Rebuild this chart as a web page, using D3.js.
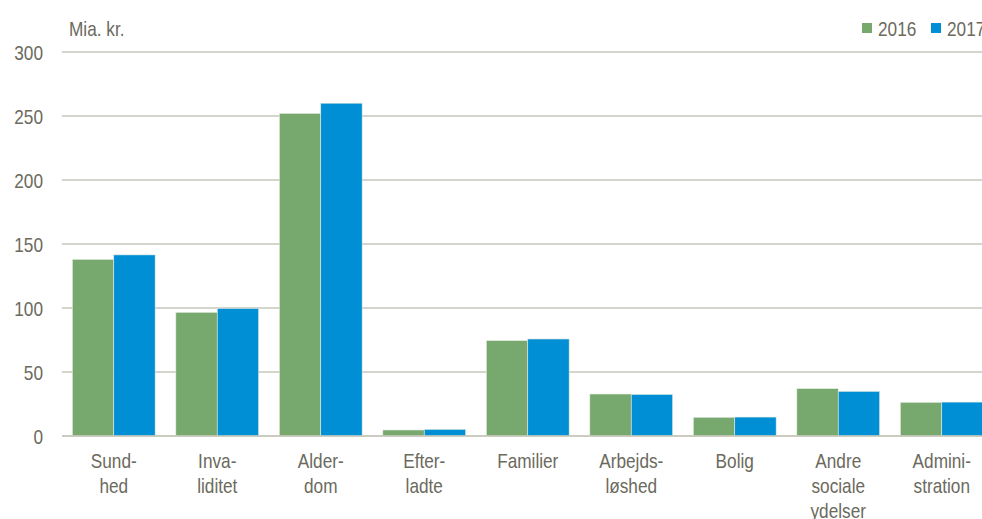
<!DOCTYPE html>
<html>
<head>
<meta charset="utf-8">
<script src="https://cdn.jsdelivr.net/npm/d3@7"></script>
<style>
  body { margin: 0; background: #fff; }
  svg { display: block; font-family: "Liberation Sans", Arial, sans-serif; }
</style>
</head>
<body>
<svg width="982" height="519"></svg>
<script>
// Sociale udgifter fordelt på formål, mia. kr.
const categories = [
    ["Sund-", "hed"],
    ["Inva-", "liditet"],
    ["Alder-", "dom"],
    ["Efter-", "ladte"],
    ["Familier"],
    ["Arbejds-", "løshed"],
    ["Bolig"],
    ["Andre", "sociale", "ydelser"],
    ["Admini-", "stration"]
];
const years = ["2016", "2017"];
const values2016 = [138, 96.6, 252, 4.7, 74.5, 32.8, 14.6, 37, 26.3];
const values2017 = [141.5, 99.7, 260, 5.2, 75.8, 32.5, 14.8, 34.9, 26.5];
const yTicks = [0, 50, 100, 150, 200, 250, 300];

const COLORS = ["#77a96f", "#008fd5"];
const TEXT = "#6b6a5d";
const GRID = "#c9c7bb";
const FS = 21;       // font size
const NARROW = 0.82; // squeeze to look like a narrow face

const svg = d3.select("svg");
const width = 982;

const keys = categories.map((c, i) => i);
const x = d3.scaleBand()
    .domain(keys)
    .range([62, 62 + 9 * 103.5])
    .paddingInner(0.2)
    .paddingOuter(0.1);
const xs = d3.scaleBand()
    .domain(years)
    .range([0, x.bandwidth()]);
const y = d3.scaleLinear()
    .domain([0, 300])
    .range([436, 52]);

const place = (px, py) => `translate(${px},${py}) scale(${NARROW},1)`;

// grid
svg.append("g")
    .selectAll("line")
    .data(yTicks)
    .enter().append("line")
        .attr("x1", 62)
        .attr("x2", width)
        .attr("y1", d => y(d))
        .attr("y2", d => y(d))
        .attr("stroke", GRID)
        .attr("stroke-width", 1.5);

// y tick labels
svg.append("g")
    .selectAll("text")
    .data(yTicks)
    .enter().append("text")
        .attr("transform", d => place(43, y(d)))
        .attr("dy", "0.36em")
        .attr("text-anchor", "end")
        .attr("fill", TEXT)
        .attr("font-size", FS)
        .text(d => d);

const series = [values2016, values2017];

const groups = svg.append("g")
    .selectAll("g")
    .data(keys)
    .enter().append("g")
        .attr("transform", d => `translate(${x(d)},0)`);

groups.selectAll("rect")
    .data(i => years.map((yr, j) => ({ yr, j, v: series[j][i] })))
    .enter().append("rect")
        .attr("x", d => xs(d.yr))
        .attr("width", xs.bandwidth())
        .attr("y", d => y(d.v))
        .attr("height", d => y(0) - y(d.v))
        .attr("fill", d => COLORS[d.j])
        .attr("stroke", "#e4ece1")
        .attr("stroke-width", 0.6);

// baseline
svg.append("line")
    .attr("x1", 62)
    .attr("x2", width)
    .attr("y1", y(0))
    .attr("y2", y(0))
    .attr("stroke", GRID)
    .attr("stroke-width", 1.5);

// category labels
const labels = svg.append("g")
    .selectAll("text")
    .data(keys)
    .enter().append("text")
        .attr("transform", d => place(x(d) + x.bandwidth() / 2, 468))
        .attr("text-anchor", "middle")
        .attr("fill", TEXT)
        .attr("font-size", FS);
labels.selectAll("tspan")
    .data(d => categories[d])
    .enter().append("tspan")
        .attr("x", 0)
        .attr("dy", (d, i) => i === 0 ? 0 : 25)
        .text(d => d);

// unit
svg.append("text")
    .attr("transform", place(69, 36))
    .attr("fill", TEXT)
    .attr("font-size", FS)
    .text("Mia. kr.");

// legend
const legendX = [862, 931];
const legend = svg.append("g")
    .selectAll("g")
    .data(years)
    .enter().append("g")
        .attr("transform", (d, i) => `translate(${legendX[i]},0)`);
legend.append("rect")
    .attr("x", 0)
    .attr("y", 23)
    .attr("width", 10)
    .attr("height", 10)
    .attr("fill", (d, i) => COLORS[i]);
legend.append("text")
    .attr("transform", place(16, 36))
    .attr("fill", TEXT)
    .attr("font-size", FS)
    .text(d => d);
</script>
</body>
</html>
